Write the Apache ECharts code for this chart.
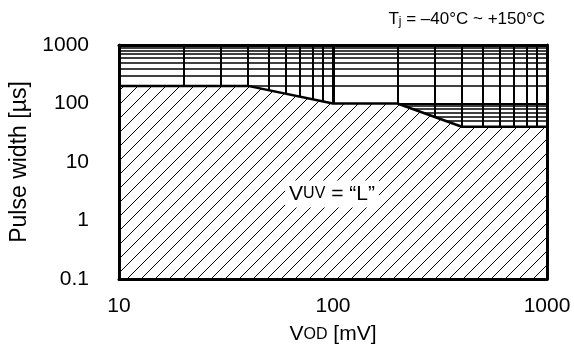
<!DOCTYPE html>
<html>
<head>
<meta charset="utf-8">
<script src="https://cdn.jsdelivr.net/npm/echarts@6/dist/echarts.min.js"></script>
<style>
  html, body { margin: 0; background: #fff; }
  #chart { width: 574px; height: 356px; }
</style>
</head>
<body>
<div id="chart"></div>
<script>
  // boundary of the region where V_UV = "L"
  const vod = [10, 40, 100, 200, 400, 1000];
  const pulseWidth = [200, 200, 100, 100, 40, 40];

  // grid lines (log paper)
  const xMinor = [20, 30, 40, 50, 60, 70, 80, 90, 200, 300, 400, 500, 600, 700, 800, 900];
  const xMajor = [100];
  const yMinor = [0.2, 0.3, 0.4, 0.5, 0.6, 0.7, 0.8, 0.9,
                  2, 3, 4, 5, 6, 7, 8, 9,
                  20, 30, 40, 50, 60, 70, 80, 90,
                  200, 300, 400, 500, 600, 700, 800, 900];
  const yMajor = [1, 10, 100];

  const FONT = 'Liberation Sans, Arial, sans-serif';

  function makeHatch() {
    const s = 14;
    const c = document.createElement('canvas');
    c.width = s; c.height = s;
    const ctx = c.getContext('2d');
    ctx.fillStyle = '#fff';
    ctx.fillRect(0, 0, s, s);
    ctx.strokeStyle = '#000';
    ctx.lineWidth = 1;
    for (let k = -1; k <= 1; k++) {
      ctx.beginPath();
      ctx.moveTo(k * s, s);
      ctx.lineTo(k * s + s, 0);
      ctx.stroke();
    }
    return c;
  }

  const chart = echarts.init(document.getElementById('chart'));

  let gridLines = [];
  xMinor.forEach(v => gridLines.push({ xAxis: v, lineStyle: { width: 2 } }));
  xMajor.forEach(v => gridLines.push({ xAxis: v, lineStyle: { width: 3 } }));
  yMinor.forEach(v => gridLines.push({ yAxis: v, lineStyle: { width: 1.5 } }));
  yMajor.forEach(v => gridLines.push({ yAxis: v, lineStyle: { width: 2 } }));

  const plain = v => String(v);

  const borderAxis = {
    type: 'log', logBase: 10,
    axisLine: { show: true, lineStyle: { color: '#000', width: 3 } },
    axisTick: { show: false },
    splitLine: { show: false },
    z: 10
  };

  const option = {
    animation: false,
    backgroundColor: '#fff',
    title: {
      text: '{t|T}{s|j}{t| = –40°C ~ +150°C}',
      right: 24, top: 5,
      textStyle: {
        rich: {
          t: { fontSize: 17, fontFamily: FONT, fontWeight: 'normal', color: '#000' },
          s: { fontSize: 12, fontFamily: FONT, fontWeight: 'normal', color: '#000', padding: [6, 0, 0, 0] }
        }
      }
    },
    grid: { left: 119, right: 27, top: 45, bottom: 77 },
    xAxis: [
      Object.assign({}, borderAxis, {
        position: 'bottom', min: 10, max: 1000,
        axisLabel: { fontSize: 21, fontFamily: FONT, color: '#000', margin: 17, formatter: plain },
        name: '{v|V}{s|OD}{v| [mV]}',
        nameLocation: 'middle', nameGap: 45,
        nameTextStyle: {
          rich: {
            v: { fontSize: 21, fontFamily: FONT, color: '#000' },
            s: { fontSize: 16, fontFamily: FONT, color: '#000' }
          }
        }
      }),
      Object.assign({}, borderAxis, {
        position: 'top', min: 10, max: 1000, axisLabel: { show: false }
      })
    ],
    yAxis: [
      Object.assign({}, borderAxis, {
        position: 'left', min: 0.1, max: 1000,
        axisLabel: { fontSize: 21, fontFamily: FONT, color: '#000', margin: 30, formatter: plain },
        name: 'Pulse width [µs]',
        nameLocation: 'middle', nameGap: 86,
        nameTextStyle: { fontSize: 23, fontFamily: FONT, color: '#000' }
      }),
      Object.assign({}, borderAxis, {
        position: 'right', min: 0.1, max: 1000, axisLabel: { show: false }
      })
    ],
    series: [
      {
        type: 'line',
        xAxisIndex: 0, yAxisIndex: 0,
        data: [],
        z: 1,
        silent: true,
        markLine: {
          z: 1,
          silent: true,
          symbol: 'none',
          label: { show: false },
          lineStyle: { color: '#000', type: 'solid' },
          data: gridLines
        }
      },
      {
        type: 'line',
        xAxisIndex: 0, yAxisIndex: 0,
        z: 3,
        data: vod.map((x, i) => [x, pulseWidth[i]]),
        showSymbol: false,
        lineStyle: { color: '#000', width: 2.5 },
        areaStyle: {
          origin: 'start',
          opacity: 1,
          color: { image: makeHatch(), repeat: 'repeat' }
        }
      }
    ],
    graphic: [
      {
        type: 'text',
        x: 332, y: 194,
        z: 20,
        style: {
          text: '{v|V}{s|UV}{v| = “L”}',
          align: 'center',
          verticalAlign: 'middle',
          backgroundColor: '#fff',
          padding: [3, 4, 3, 4],
          rich: {
            v: { fontSize: 21, fontFamily: FONT, fill: '#000' },
            s: { fontSize: 16, fontFamily: FONT, fill: '#000' }
          }
        }
      }
    ]
  };

  chart.setOption(option);
</script>
</body>
</html>
